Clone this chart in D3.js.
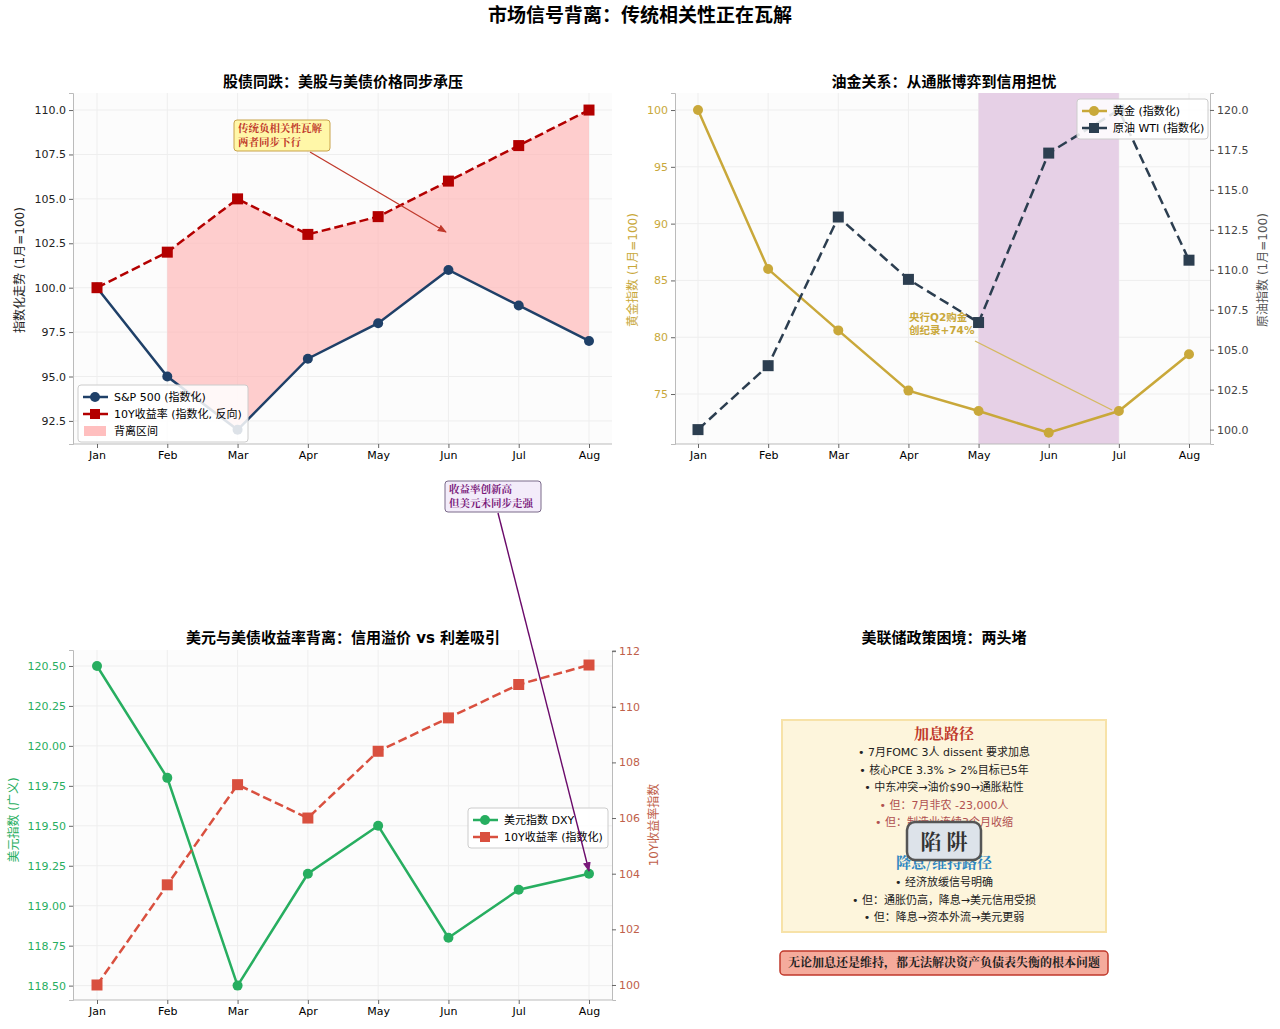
<!DOCTYPE html>
<html><head><meta charset="utf-8">
<script src="https://cdn.jsdelivr.net/npm/d3@7"></script>
<style>body{margin:0;background:#fff;font-family:"DejaVu Sans","Noto Sans CJK SC",sans-serif}</style>
</head><body><svg id="c" width="1280" height="1029"></svg>
<script>
const months=["Jan","Feb","Mar","Apr","May","Jun","Jul","Aug"];
const sp500=[100,95,92,96,98,101,99,97];
const yield10=[100,102,105,103,104,106,108,110];
const gold=[100,86.0,80.6,75.3,73.5,71.6,73.5,78.5];
const oil=[100,104,113.3,109.4,106.7,117.3,120,110.6];
const dxy=[120.5,119.8,118.5,119.2,119.5,118.8,119.1,119.2];
const yield10b=[100,103.6,107.2,106,108.4,109.6,110.8,111.5];
const t1=[92.5,95,97.5,100,102.5,105,107.5,110];
const t2L=[75,80,85,90,95,100], t2R=[100,102.5,105,107.5,110,112.5,115,117.5,120];
const t3L=[118.5,118.75,119,119.25,119.5,119.75,120,120.25,120.5], t3R=[100,102,104,106,108,110,112];

const svg=d3.select("#c");
const F='"DejaVu Sans","Noto Sans CJK SC",sans-serif';
const SERIF='"Noto Serif CJK SC","Noto Sans CJK SC",serif';
svg.append("text").attr("x",640).attr("y",22).attr("text-anchor","middle").attr("font-size",19).attr("font-weight","bold").attr("font-family",F).text("市场信号背离：传统相关性正在瓦解");

function panel(x0,x1,y0,y1,xr){
  const g=svg.append("g");
  const x=d3.scalePoint().domain(months).range(xr);
  return {g,x,x0,x1,y0,y1};
}
function grid(p,y,ticks){
  p.g.append("rect").attr("x",p.x0).attr("y",p.y0).attr("width",p.x1-p.x0).attr("height",p.y1-p.y0).attr("fill","#fcfcfc");
  ticks.forEach(t=>p.g.append("line").attr("x1",p.x0).attr("x2",p.x1).attr("y1",y(t)).attr("y2",y(t)).attr("stroke","#eee"));
  months.forEach(m=>p.g.append("line").attr("x1",p.x(m)).attr("x2",p.x(m)).attr("y1",p.y0).attr("y2",p.y1).attr("stroke","#eee"));
}
function axes(p,yL,tL,colL,fmt,yR,tR,colR,fmtR){
  const xa=p.g.append("g").attr("transform",`translate(0,${p.y1})`).call(d3.axisBottom(p.x).tickSize(4));
  xa.select(".domain").attr("d",`M${p.x0},0H${p.x1}`).attr("stroke","#bbb");
  const la=p.g.append("g").attr("transform",`translate(${p.x0},0)`).call(d3.axisLeft(yL).tickValues(tL).tickFormat(fmt).tickSize(4));
  la.selectAll("text").attr("fill",colL);
  la.select(".domain").attr("stroke","#bbb");
  if(yR){const ra=p.g.append("g").attr("transform",`translate(${p.x1},0)`).call(d3.axisRight(yR).tickValues(tR).tickFormat(fmtR).tickSize(4));
    ra.selectAll("text").attr("fill",colR);ra.select(".domain").attr("stroke","#bbb");}
  p.g.selectAll(".tick text").attr("font-size",11).attr("font-family",F);
  p.g.selectAll(".tick line").attr("stroke","#666");
}
function series(p,y,vals,col,dash,shape,sz){
  const line=d3.line().x((d,i)=>p.x(months[i])).y(d=>y(d));
  p.g.append("path").attr("d",line(vals)).attr("fill","none").attr("stroke",col).attr("stroke-width",2.5).attr("stroke-dasharray",dash||null);
  vals.forEach((v,i)=>{
    if(shape==="c")p.g.append("circle").attr("cx",p.x(months[i])).attr("cy",y(v)).attr("r",sz).attr("fill",col);
    else p.g.append("rect").attr("x",p.x(months[i])-sz).attr("y",y(v)-sz).attr("width",2*sz).attr("height",2*sz).attr("fill",col);
  });
}
function title(x,y,t){svg.append("text").attr("x",x).attr("y",y).attr("text-anchor","middle").attr("font-size",15).attr("font-weight","bold").attr("font-family",F).text(t);}
function ylabel(x,y,t,col){svg.append("text").attr("transform",`translate(${x},${y}) rotate(-90)`).attr("text-anchor","middle").attr("font-size",12).attr("fill",col).attr("font-family",F).text(t);}
function legend(x,y,w,items){
  const g=svg.append("g");
  g.append("rect").attr("x",x).attr("y",y).attr("width",w).attr("height",items.length*17+6).attr("rx",3).attr("fill","rgba(255,255,255,0.85)").attr("stroke","#ccc");
  items.forEach((it,i)=>{const cy=y+12+i*17;
    if(it.patch){g.append("rect").attr("x",x+6).attr("y",cy-5).attr("width",22).attr("height",10).attr("fill",it.col).attr("opacity",0.5);}
    else{g.append("line").attr("x1",x+5).attr("x2",x+30).attr("y1",cy).attr("y2",cy).attr("stroke",it.col).attr("stroke-width",2.5);
      if(it.shape==="c")g.append("circle").attr("cx",x+17).attr("cy",cy).attr("r",5).attr("fill",it.col);
      else g.append("rect").attr("x",x+12).attr("y",cy-5).attr("width",10).attr("height",10).attr("fill",it.col);}
    g.append("text").attr("x",x+36).attr("y",cy+4).attr("font-size",11).attr("font-family",F).text(it.t);});
}
const defs=svg.append("defs");
function marker(id,col){defs.append("marker").attr("id",id).attr("viewBox","0 0 10 10").attr("refX",9).attr("refY",5).attr("markerWidth",7).attr("markerHeight",7).attr("orient","auto").append("path").attr("d","M0,1L10,5L0,9z").attr("fill",col);}
marker("a1","#c0392b");marker("a2","#7a1a7a");

// Panel 1
const p1=panel(73,612,93,444,[97,589]);
const y1=d3.scaleLinear().domain([91.2,110.96]).range([444,93]);
grid(p1,y1,t1);
const area=d3.area().x((d,i)=>p1.x(months[i+1])).y0((d,i)=>y1(sp500[i+1])).y1(d=>y1(d));
p1.g.append("path").attr("d",area(yield10.slice(1))).attr("fill","#ffb3b3").attr("opacity",0.65);
series(p1,y1,sp500,"#1f4068",null,"c",5);
series(p1,y1,yield10,"#b30000","9,4","s",5.5);
axes(p1,y1,t1,"#222",d3.format(".1f"));
title(343,87,"股债同跌：美股与美债价格同步承压");
ylabel(24,270,"指数化走势 (1月=100)","#222");
legend(78,385,170,[{t:"S&P 500 (指数化)",col:"#1f4068",shape:"c"},{t:"10Y收益率 (指数化, 反向)",col:"#b30000",shape:"s"},{t:"背离区间",col:"#ff8080",patch:true}]);
svg.append("line").attr("x1",310).attr("y1",152).attr("x2",446).attr("y2",232).attr("stroke","#c0392b").attr("stroke-width",1.3).attr("marker-end","url(#a1)");
svg.append("rect").attr("x",234).attr("y",120).attr("width",96).attr("height",31).attr("rx",3).attr("fill","#fff7a8").attr("stroke","#c8a24a");
[["传统负相关性瓦解",132],["两者同步下行",146]].forEach(d=>svg.append("text").attr("x",238).attr("y",d[1]).attr("font-size",10.5).attr("font-weight","bold").attr("fill","#c0392b").attr("font-family",SERIF).text(d[0]));

// Panel 2
const p2=panel(675,1210,93,444,[698,1189]);
const y2L=d3.scaleLinear().domain([70.6,101.5]).range([444,93]);
const y2R=d3.scaleLinear().domain([99.1,121.06]).range([444,93]);
grid(p2,y2L,t2L);
p2.g.append("rect").attr("x",p2.x("May")).attr("y",93).attr("width",p2.x("Jul")-p2.x("May")).attr("height",351).attr("fill","#e6d0e6");
series(p2,y2L,gold,"#c9a83a",null,"c",5);
series(p2,y2R,oil,"#2c3e50","10,5","s",5.5);
axes(p2,y2L,t2L,"#c9a83a",d3.format("d"),y2R,t2R,"#444",d3.format(".1f"));
title(944,87,"油金关系：从通胀博弈到信用担忧");
ylabel(637,270,"黄金指数 (1月=100)","#c9a83a");
ylabel(1267,270,"原油指数 (1月=100)","#555");
legend(1077,99,131,[{t:"黄金 (指数化)",col:"#c9a83a",shape:"c"},{t:"原油 WTI (指数化)",col:"#2c3e50",shape:"s"}]);
svg.append("line").attr("x1",975).attr("y1",341).attr("x2",1112).attr("y2",410).attr("stroke","#d4b860").attr("stroke-width",1.3);
[["央行Q2购金",321],["创纪录+74%",334]].forEach(d=>svg.append("text").attr("x",909).attr("y",d[1]).attr("font-size",10.5).attr("font-weight","bold").attr("fill","#c9a83a").attr("font-family",F).text(d[0]));

// Panel 3
const p3=panel(73,612,650,1000,[97,589]);
const y3L=d3.scaleLinear().domain([118.41,120.6]).range([1000,650]);
const y3R=d3.scaleLinear().domain([99.46,112.04]).range([1000,650]);
grid(p3,y3L,t3L);
series(p3,y3L,dxy,"#27ae60",null,"c",5);
series(p3,y3R,yield10b,"#d9503f","9,4","s",5.5);
axes(p3,y3L,t3L,"#27ae60",d3.format(".2f"),y3R,t3R,"#c0604a",d3.format("d"));
title(343,643,"美元与美债收益率背离：信用溢价 vs 利差吸引");
ylabel(18,820,"美元指数 (广义)","#27ae60");
ylabel(658,825,"10Y收益率指数","#c0604a");
legend(468,808,140,[{t:"美元指数 DXY",col:"#27ae60",shape:"c"},{t:"10Y收益率 (指数化)",col:"#d9503f",shape:"s"}]);
svg.append("rect").attr("x",445).attr("y",481).attr("width",96).attr("height",31).attr("rx",3).attr("fill","#f3ecfa").attr("stroke","#7a6a8a");
[["收益率创新高",493],["但美元未同步走强",507]].forEach(d=>svg.append("text").attr("x",449).attr("y",d[1]).attr("font-size",10.5).attr("font-weight","bold").attr("fill","#7a1a7a").attr("font-family",SERIF).text(d[0]));
svg.append("line").attr("x1",498).attr("y1",513).attr("x2",589).attr("y2",871).attr("stroke","#6a0a6a").attr("stroke-width",1.4).attr("marker-end","url(#a2)");

// Panel 4
title(944,643,"美联储政策困境：两头堵");
svg.append("rect").attr("x",782).attr("y",720).attr("width",324).attr("height",212).attr("fill","#fdf5dc").attr("stroke","#f7e2a8").attr("stroke-width",2);
svg.append("text").attr("x",944).attr("y",739).attr("text-anchor","middle").attr("font-size",15).attr("font-weight","bold").attr("fill","#c0392b").attr("font-family",SERIF).text("加息路径");
const up=[["• 7月FOMC 3人 dissent 要求加息","#222"],["• 核心PCE 3.3% > 2%目标已5年","#222"],["• 中东冲突→油价$90→通胀粘性","#222"],["• 但：7月非农 -23,000人","#b05050"],["• 但：制造业连续3个月收缩","#b05050"]];
up.forEach((d,i)=>svg.append("text").attr("x",944).attr("y",756+i*17.6).attr("text-anchor","middle").attr("font-size",11).attr("fill",d[1]).attr("font-family",F).text(d[0]));
svg.append("text").attr("x",944).attr("y",868).attr("text-anchor","middle").attr("font-size",15).attr("font-weight","bold").attr("fill","#2e86c1").attr("font-family",SERIF).text("降息/维持路径");
["• 经济放缓信号明确","• 但：通胀仍高，降息→美元信用受损","• 但：降息→资本外流→美元更弱"].forEach((t,i)=>svg.append("text").attr("x",944).attr("y",886+i*17.6).attr("text-anchor","middle").attr("font-size",11).attr("fill","#222").attr("font-family",F).text(t));
svg.append("rect").attr("x",907).attr("y",822).attr("width",74).attr("height",38).attr("rx",8).attr("fill","#dde3ea").attr("stroke","#555").attr("stroke-width",2.5);
svg.append("text").attr("x",944).attr("y",849).attr("text-anchor","middle").attr("font-size",21).attr("font-weight","bold").attr("fill","#333").attr("font-family",SERIF).text("陷 阱");
svg.append("rect").attr("x",780).attr("y",951).attr("width",328).attr("height",24).attr("rx",4).attr("fill","#f5ab9c").attr("stroke","#c0392b").attr("stroke-width",1.5);
svg.append("text").attr("x",944).attr("y",967).attr("text-anchor","middle").attr("font-size",12).attr("font-weight","bold").attr("fill","#222").attr("font-family",SERIF).text("无论加息还是维持，都无法解决资产负债表失衡的根本问题");
</script></body></html>
